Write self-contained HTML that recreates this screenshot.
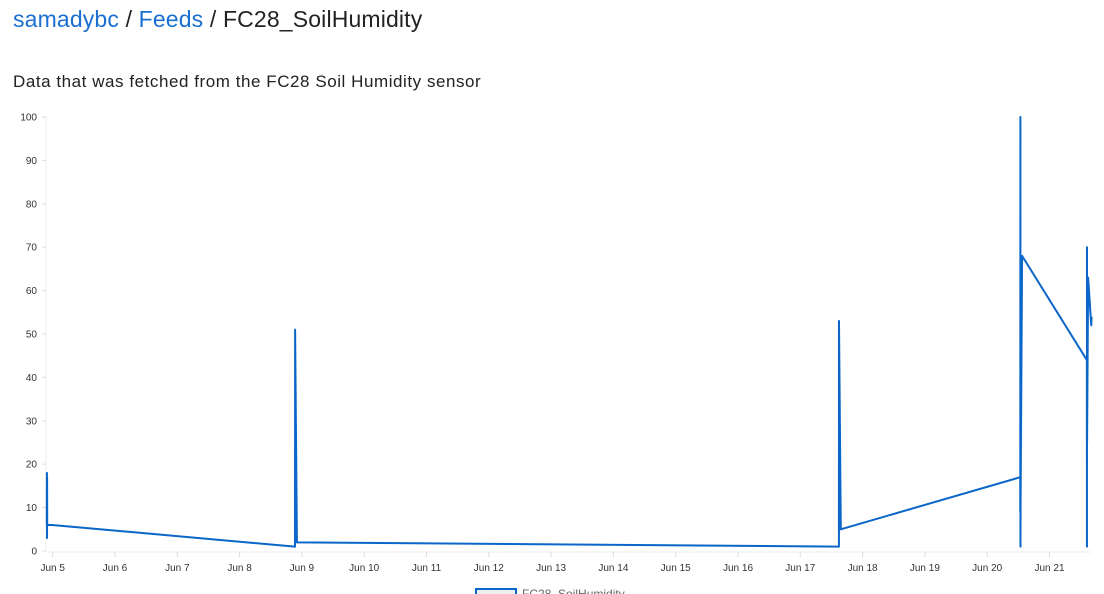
<!DOCTYPE html>
<html><head><meta charset="utf-8">
<style>
body{margin:0;background:#fff;font-family:"Liberation Sans",sans-serif;width:1104px;height:594px;overflow:hidden;position:relative}
.hdr{position:absolute;left:13px;top:6px;font-size:23px;letter-spacing:0.15px;color:#222}
.hdr a{color:#1a6fd1;text-decoration:none}
.sub{position:absolute;left:13px;top:72px;font-size:17px;letter-spacing:0.55px;color:#222}
svg{position:absolute;left:0;top:0}
</style></head>
<body>
<div class="hdr"><a>samadybc</a> / <a>Feeds</a> / <span>FC28_SoilHumidity</span></div>
<div class="sub">Data that was fetched from the FC28 Soil Humidity sensor</div>
<svg id="chart" width="1104" height="594"></svg>
<script>
const yTicks=[0,10,20,30,40,50,60,70,80,90,100];
const xTickDays=[5,6,7,8,9,10,11,12,13,14,15,16,17,18,19,20,21];
const xTickLabels=["Jun 5","Jun 6","Jun 7","Jun 8","Jun 9","Jun 10","Jun 11","Jun 12","Jun 13","Jun 14","Jun 15","Jun 16","Jun 17","Jun 18","Jun 19","Jun 20","Jun 21"];
const times=[4.905,4.907,4.909,4.91,4.912,4.99,8.89,8.891,8.92,17.62,17.621,17.65,20.53,20.531,20.533,20.534,20.536,20.56,21.60,21.601,21.602,21.603,21.62,21.67,21.675];
const values=[6,18,3,17,6,6,1,51,2,1,53,5,17,9,100,1,11,68,44,1,70,25,63,52,54];
const svg=document.getElementById('chart');const NS='http://www.w3.org/2000/svg';
const X0=46,X1=1092,Y0=551,Y1=117;
const x=d=>52.7+(d-5)*62.3;
const y=v=>Y0-(v/100)*(Y0-Y1);
function el(t,a){const e=document.createElementNS(NS,t);for(const k in a)e.setAttribute(k,a[k]);svg.appendChild(e);return e;}
let ax=el('line',{x1:X0,x2:X0,y1:Y1,y2:Y0,stroke:'#eee'});

let bx=el('line',{x1:X0,x2:X1,y1:Y0+1,y2:Y0+1,stroke:'#eee'});

yTicks.forEach(v=>{el('line',{x1:X0-4,x2:X0,y1:y(v),y2:y(v),stroke:'#ddd'});
const t=el('text',{x:X0-9,y:y(v)+3.5,'text-anchor':'end','font-size':10,fill:'#333'});t.textContent=v;
});
xTickDays.forEach((d,i)=>{el('line',{x1:x(d),x2:x(d),y1:Y0+1,y2:Y0+6,stroke:'#ddd'});
const t=el('text',{x:x(d),y:Y0+20,'text-anchor':'middle','font-size':10,fill:'#333'});t.textContent=xTickLabels[i];
});
const p=el('polyline',{points:times.map((d,i)=>x(d)+','+y(values[i])).join(' '),fill:'none',stroke:'#0a66c8','stroke-width':2,'stroke-linejoin':'round'});

const lb=el('rect',{x:476,y:589,width:40,height:12,fill:'#eee',stroke:'#0a66c8','stroke-width':2});

const lt=el('text',{x:522,y:598,'font-size':12,fill:'#666'});lt.textContent='FC28_SoilHumidity';

</script>
</body></html>
